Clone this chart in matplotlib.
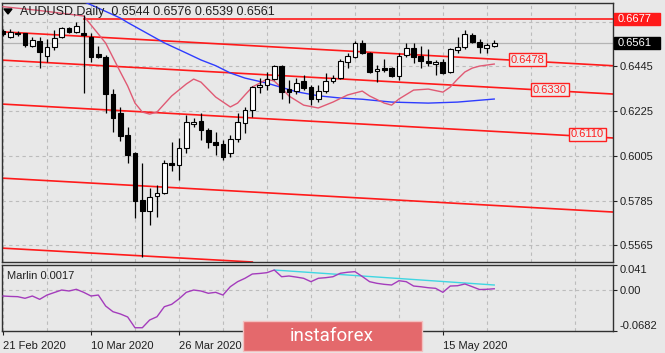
import matplotlib
matplotlib.use("Agg")
import matplotlib.pyplot as plt
from matplotlib.patches import Rectangle, Polygon
import numpy as np

# ---------------- data ----------------
opens = [0.6618, 0.6589, 0.6608, 0.6608, 0.6544, 0.6569, 0.6495, 0.6539, 0.6589, 0.6633,
         0.6613, 0.6608, 0.6589, 0.6505, 0.6490, 0.6308, 0.6215, 0.6107, 0.6018, 0.5788,
         0.5734, 0.5807, 0.5822, 0.5969, 0.5960, 0.6043, 0.6161, 0.6176, 0.6132, 0.6073,
         0.6063, 0.6018, 0.6087, 0.6166, 0.6230, 0.6343, 0.6353, 0.6382, 0.6446, 0.6333,
         0.6323, 0.6372, 0.6343, 0.6284, 0.6323, 0.6372, 0.6387, 0.6466, 0.6490, 0.6559,
         0.6510, 0.6421, 0.6436, 0.6436, 0.6397, 0.6500, 0.6534, 0.6495, 0.6471, 0.6456,
         0.6466, 0.6417, 0.6525, 0.6539, 0.6598, 0.6564, 0.6534, 0.6544]
highs = [0.6628, 0.6628, 0.6618, 0.6611, 0.6589, 0.6589, 0.6579, 0.6623, 0.6638, 0.6640,
         0.6662, 0.6697, 0.6608, 0.6544, 0.6500, 0.6333, 0.6245, 0.6146, 0.6023, 0.5969,
         0.5847, 0.5861, 0.5984, 0.6073, 0.6092, 0.6205, 0.6190, 0.6215, 0.6141, 0.6122,
         0.6082, 0.6107, 0.6215, 0.6245, 0.6348, 0.6387, 0.6417, 0.6451, 0.6451, 0.6377,
         0.6387, 0.6402, 0.6353, 0.6353, 0.6412, 0.6402, 0.6480, 0.6510, 0.6569, 0.6574,
         0.6515, 0.6451, 0.6480, 0.6441, 0.6510, 0.6559, 0.6559, 0.6544, 0.6530, 0.6476,
         0.6480, 0.6534, 0.6589, 0.6623, 0.6608, 0.6579, 0.6559, 0.6576]
lows = [0.6593, 0.6584, 0.6593, 0.6539, 0.6539, 0.6436, 0.6466, 0.6525, 0.6586, 0.6608,
        0.6608, 0.6313, 0.6466, 0.6485, 0.6215, 0.6122, 0.6077, 0.5969, 0.5699, 0.5507,
        0.5665, 0.5704, 0.5817, 0.5930, 0.5886, 0.6018, 0.6146, 0.6082, 0.6043, 0.6009,
        0.5984, 0.5999, 0.6073, 0.6117, 0.6195, 0.6313, 0.6328, 0.6377, 0.6284, 0.6264,
        0.6308, 0.6328, 0.6254, 0.6269, 0.6313, 0.6362, 0.6382, 0.6436, 0.6485, 0.6505,
        0.6412, 0.6367, 0.6417, 0.6392, 0.6377, 0.6490, 0.6461, 0.6436, 0.6446, 0.6402,
        0.6407, 0.6412, 0.6510, 0.6530, 0.6559, 0.6510, 0.6510, 0.6539]
closes = [0.6603, 0.6613, 0.6606, 0.6549, 0.6574, 0.6515, 0.6539, 0.6584, 0.6633, 0.6613,
          0.6643, 0.6598, 0.6490, 0.6490, 0.6308, 0.6191, 0.6102, 0.6009, 0.5783, 0.5734,
          0.5802, 0.5822, 0.5969, 0.5960, 0.6043, 0.6171, 0.6171, 0.6132, 0.6073, 0.6058,
          0.5999, 0.6087, 0.6171, 0.6230, 0.6343, 0.6353, 0.6382, 0.6446, 0.6318, 0.6318,
          0.6362, 0.6338, 0.6284, 0.6323, 0.6372, 0.6387, 0.6471, 0.6495, 0.6559, 0.6510,
          0.6417, 0.6431, 0.6426, 0.6397, 0.6495, 0.6534, 0.6490, 0.6471, 0.6461, 0.6466,
          0.6412, 0.6530, 0.6539, 0.6603, 0.6564, 0.6539, 0.6549, 0.6561]

# moving averages (bar index, price)
ma_fast_idx = [0, 5, 11, 12, 14, 16, 17, 18, 19, 20, 21, 23, 25, 26, 27, 29, 31, 32, 33, 34,
               35, 36, 37, 38, 39, 41, 43, 45, 47, 49, 50, 52, 53, 54, 56, 58, 60, 61, 62, 63,
               64, 65, 67]
ma_fast_val = [0.6738, 0.6719, 0.6692, 0.6648, 0.6559, 0.6417, 0.6348, 0.6264, 0.6220, 0.6210,
               0.6220, 0.6299, 0.6358, 0.6382, 0.6367, 0.6294, 0.6245, 0.6264, 0.6304, 0.6343,
               0.6362, 0.6382, 0.6372, 0.6338, 0.6299, 0.6254, 0.6240, 0.6269, 0.6304, 0.6323,
               0.6299, 0.6264, 0.6254, 0.6284, 0.6328, 0.6333, 0.6318, 0.6343, 0.6382, 0.6417,
               0.6436, 0.6446, 0.6456]
ma_slow_idx = [10, 11, 13, 16, 17, 22, 25, 27, 29, 31, 33, 36, 40, 43, 46, 49, 53, 58, 62, 67]
ma_slow_val = [0.6775, 0.6763, 0.6731, 0.6682, 0.6660, 0.6560, 0.6510, 0.6476, 0.6448, 0.6412,
               0.6387, 0.6362, 0.6320, 0.6300, 0.6289, 0.6283, 0.6269, 0.6264, 0.6269, 0.6284]

# parallel channel lines: price at bar 0 and slope per bar
channel_p0 = [0.6614, 0.6475, 0.6259, 0.5895, 0.5551]
channel_slope = -0.0002
channel_labels = ["0.6478", "0.6330", "0.6110"]
channel_label_idx = [71.5, 74.6, 79.7]
channel_label_val = [0.6478, 0.6330, 0.6110]

resistance = 0.6677
resistance_start = 11
last_price = 0.6561

# Marlin oscillator
marlin = [-0.0103, -0.0110, -0.0114, -0.0141, -0.0103, -0.0158, -0.0087, -0.0045, -0.0004, -0.0020,
          0.0008, -0.0042, -0.0103, -0.0087, -0.0269, -0.0363, -0.0400, -0.0450, -0.0628, -0.0628,
          -0.0500, -0.0446, -0.0280, -0.0241, -0.0150, -0.0042, -0.0004, -0.0020, -0.0058, -0.0042,
          -0.0087, 0.0051, 0.0134, 0.0190, 0.0261, 0.0270, 0.0283, 0.0327, 0.0216, 0.0228,
          0.0210, 0.0190, 0.0134, 0.0190, 0.0200, 0.0216, 0.0273, 0.0290, 0.0300, 0.0220,
          0.0134, 0.0107, 0.0090, 0.0079, 0.0150, 0.0134, 0.0062, 0.0050, 0.0034, 0.0024,
          -0.0042, 0.0062, 0.0067, 0.0096, 0.0051, 0.0004, 0.0008, 0.0017]
marlin_trend_idx = [37, 67]
marlin_trend_val = [0.0327, 0.0079]

date_idx = [0, 12, 24, 36, 48, 60]
date_labels = ["21 Feb 2020", "10 Mar 2020", "26 Mar 2020", "", "", "15 May 2020"]
price_ticks = [0.6665, 0.6445, 0.6225, 0.6005, 0.5785, 0.5565]
price_tick_labels = ["", "0.6445", "0.6225", "0.6005", "0.5785", "0.5565"]
marlin_ticks = [0.041, 0.0, -0.0682]
marlin_tick_labels = ["0.041", "0.00", "-0.0682"]

# ---------------- figure ----------------
W, H = 665, 353
BG = '#e8e8e8'
FONT = ['Liberation Sans', 'DejaVu Sans']
plt.rcParams['font.family'] = FONT
fig = plt.figure(figsize=(W / 100, H / 100), dpi=100)
fig.patch.set_facecolor(BG)

def fx(px):
    return px / W

def fy(py):
    return 1 - py / H

ax = fig.add_axes([fx(2), fy(262), fx(613) - fx(2), fy(3) - fy(262)])
ax2 = fig.add_axes([fx(2), fy(331), fx(613) - fx(2), fy(265) - fy(331)])

XMIN, XMAX = -0.14, 83.2
for a in (ax, ax2):
    a.set_facecolor(BG)
    a.set_xlim(XMIN, XMAX)
    for s in a.spines.values():
        s.set_color('#303030')
        s.set_linewidth(1.0)

grid_kw = dict(color='#bcbcbc', linestyle=(0, (3, 3)), linewidth=0.8)

# main axes
ax.set_ylim(0.5483, 0.6756)
ax.set_xticks(np.arange(0, 84, 6))
ax.tick_params(axis='x', length=0, labelbottom=False)
ax.yaxis.tick_right()
ax.set_yticks(price_ticks)
ax.set_yticklabels(price_tick_labels)
ax.tick_params(axis='y', length=3, width=0.8, pad=2, labelsize=8, colors='#202020')
ax.grid(True, **grid_kw)
ax.set_axisbelow(True)

# channel lines
for p0 in channel_p0:
    ax.axline((0, p0), (1, p0 + channel_slope), color='#ff1a1a', lw=1.2, zorder=2)
ax.plot([resistance_start, XMAX], [resistance, resistance], color='#ff1a1a', lw=1.2, zorder=2)
ax.axhline(last_price, color='#b4b4b4', lw=0.9, zorder=1.5)

# moving averages
ax.plot(ma_slow_idx, ma_slow_val, color='#2e3cff', lw=1.0, zorder=3)
ax.plot(ma_fast_idx, ma_fast_val, color='#e05a74', lw=1.0, zorder=3)

# candles
o = np.array(opens); h = np.array(highs); l = np.array(lows); c = np.array(closes)
idx = np.arange(len(o))
ax.vlines(idx, l, h, color='black', lw=0.9, zorder=4)
bull = c >= o
bottom = np.minimum(o, c)
height = np.maximum(np.abs(c - o), 0.00045)
ax.bar(idx[bull], height[bull], bottom=bottom[bull], width=0.66, color='white',
       edgecolor='black', linewidth=0.8, zorder=5)
ax.bar(idx[~bull], height[~bull], bottom=bottom[~bull], width=0.66, color='black',
       edgecolor='black', linewidth=0.8, zorder=5)

# channel labels
for xi, v, t in zip(channel_label_idx, channel_label_val, channel_labels):
    ax.text(xi, v, t, color='#ff2020', fontsize=8, ha='center', va='center', zorder=6,
            bbox=dict(boxstyle='square,pad=0.15', fc='#ececec', ec='#ff2020', lw=1.0))

# title
fig.text(fx(20), fy(12), 'AUDUSD,Daily  0.6544 0.6576 0.6539 0.6561', fontsize=9,
         color='#202020', va='center', ha='left', zorder=10)
fig.add_artist(Polygon([[fx(4), fy(9)], [fx(12), fy(9)], [fx(8), fy(14)]], closed=True,
                       transform=fig.transFigure, color='black', zorder=10))

# right price boxes
fig.add_artist(Rectangle((fx(614), fy(25)), fx(660) - fx(614), fy(13) - fy(25),
                         transform=fig.transFigure, color='#ff1a1a', zorder=10))
fig.text(fx(618), fy(19), f'{resistance:.4f}', color='white', fontsize=8, va='center', ha='left', zorder=11)
fig.add_artist(Rectangle((fx(614), fy(49)), fx(660) - fx(614), fy(37) - fy(49),
                         transform=fig.transFigure, color='black', zorder=10))
fig.text(fx(618), fy(43), f'{last_price:.4f}', color='white', fontsize=8, va='center', ha='left', zorder=11)

# lower panel
ax2.set_ylim(-0.0682, 0.041)
ax2.set_xticks(date_idx)
ax2.set_xticklabels(date_labels, ha='left')
ax2.set_xticks(np.arange(6, 84, 12), minor=True)
ax2.tick_params(axis='x', which='major', length=3, width=0.8, pad=4, labelsize=8, colors='#202020')
ax2.tick_params(axis='x', which='minor', length=0)
ax2.grid(True, which='both', axis='x', **grid_kw)
ax2.axhline(0, **grid_kw)
ax2.yaxis.tick_right()
ax2.set_yticks(marlin_ticks)
ax2.set_yticklabels(marlin_tick_labels)
ax2.tick_params(axis='y', length=3, width=0.8, pad=2, labelsize=8, colors='#202020')
ylabels = ax2.get_yticklabels()
ylabels[0].set_va('top')
ylabels[2].set_va('bottom')
ax2.set_axisbelow(True)

ax2.plot(np.arange(len(marlin)), marlin, color='#a43cbc', lw=1.0, zorder=3)
ax2.plot(marlin_trend_idx, marlin_trend_val, color='#3fd6e2', lw=1.0, zorder=2)
ax2.text(0.008, 0.84, f'Marlin {marlin[-1]:.4f}', transform=ax2.transAxes, fontsize=8,
         color='#202020', va='center', ha='left')

# watermark
fig.add_artist(Rectangle((fx(243), fy(351)), fx(422) - fx(243), fy(321) - fy(351),
                         transform=fig.transFigure, fc='#e4696c', ec='#f3c0c0', lw=1.0, zorder=20))
fig.text(fx(332), fy(336), 'instaforex', color='white', fontsize=13.5, family=['Roboto', 'DejaVu Sans'],
         ha='center', va='center', zorder=21)

fig.savefig('out.png', dpi=100, facecolor=BG)
